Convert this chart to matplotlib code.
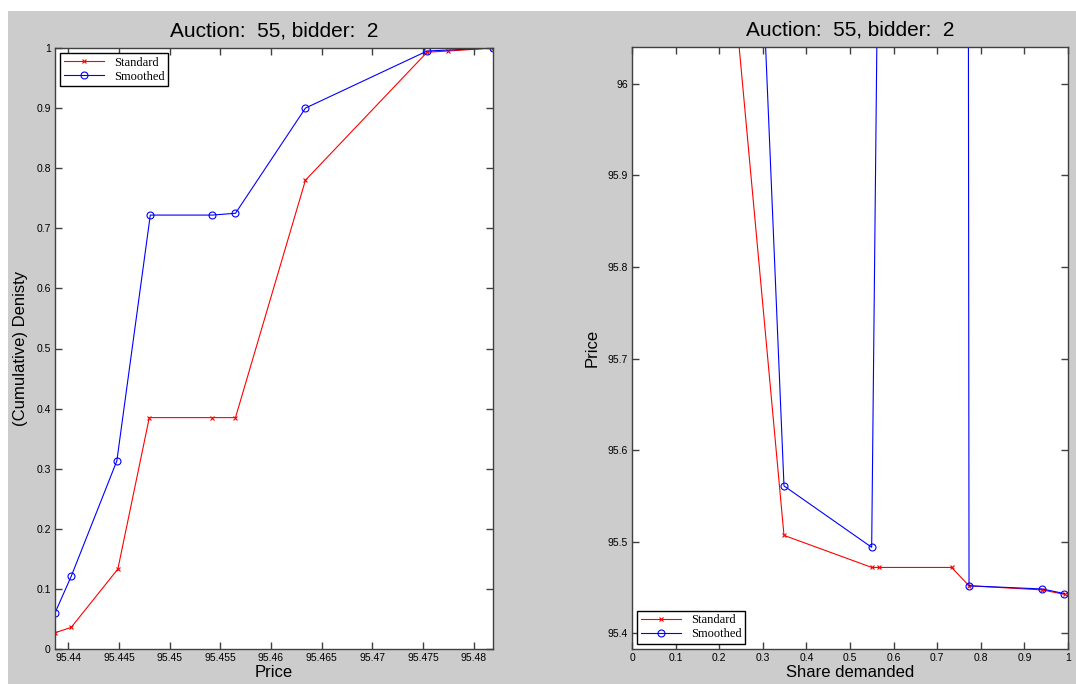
import numpy as np
import matplotlib
matplotlib.use("Agg")
import matplotlib.pyplot as plt
from matplotlib.patches import Rectangle

# cumulative density against price
price_std = [95.4387, 95.4403, 95.4449, 95.4480, 95.4542, 95.4565, 95.4634, 95.4754, 95.4775, 95.4819]
dens_std = [0.027, 0.036, 0.133, 0.385, 0.385, 0.385, 0.780, 0.993, 0.995, 1.000]
price_smo = [95.4387, 95.4403, 95.4448, 95.4481, 95.4542, 95.4565, 95.4634, 95.4754, 95.4819]
dens_smo = [0.060, 0.121, 0.313, 0.722, 0.722, 0.725, 0.900, 0.995, 1.000]

# demand curves: share demanded against price
share_std = [0.157, 0.3486, 0.550, 0.566, 0.733, 0.773, 0.941, 0.993]
pr_std = [96.50, 95.507, 95.472, 95.472, 95.472, 95.452, 95.4475, 95.4425]
share_smo = [0.266, 0.3486, 0.5497, 0.751, 0.773, 0.941, 0.9916]
pr_smo = [96.50, 95.561, 95.494, 104.8, 95.452, 95.4485, 95.4435]

left_xticks = [95.44, 95.445, 95.45, 95.455, 95.46, 95.465, 95.47, 95.475, 95.48]
left_xlabels = ['95.44', '95.445', '95.45', '95.455', '95.46', '95.465', '95.47', '95.475', '95.48']
left_yticks = [0, 0.1, 0.2, 0.3, 0.4, 0.5, 0.6, 0.7, 0.8, 0.9, 1]
left_ylabels = ['0', '0.1', '0.2', '0.3', '0.4', '0.5', '0.6', '0.7', '0.8', '0.9', '1']
right_xticks = [0, 0.1, 0.2, 0.3, 0.4, 0.5, 0.6, 0.7, 0.8, 0.9, 1]
right_xlabels = ['0', '0.1', '0.2', '0.3', '0.4', '0.5', '0.6', '0.7', '0.8', '0.9', '1']
right_yticks = [95.4, 95.5, 95.6, 95.7, 95.8, 95.9, 96]
right_ylabels = ['95.4', '95.5', '95.6', '95.7', '95.8', '95.9', '96']

title = 'Auction:  55, bidder:  2'

plt.rcParams['font.family'] = ['Liberation Sans', 'DejaVu Sans']

W, H = 1076, 684
fig = plt.figure(figsize=(W / 100, H / 100), dpi=100, facecolor='white')
fig.patches.append(Rectangle((8 / W, 0), 1 - 8 / W, (H - 11) / H,
                             transform=fig.transFigure, facecolor='#cccccc',
                             edgecolor='none', zorder=-10))


def px_axes(x0, y0, x1, y1):
    return fig.add_axes([x0 / W, (H - y1) / H, (x1 - x0) / W, (y1 - y0) / H])


def style(ax):
    for s in ax.spines.values():
        s.set_color('#404040')
        s.set_linewidth(1.0)
    ax.tick_params(direction='in', length=5, width=1.0, color='#404040',
                   top=True, right=True, labelsize=7.5, pad=3)


leg_kw = dict(prop={'family': 'Liberation Serif', 'size': 9}, fancybox=False,
              edgecolor='black', framealpha=1, handlelength=3.2, borderpad=0.3,
              labelspacing=0.15, handletextpad=0.8, borderaxespad=0.4)

ax1 = px_axes(55, 48, 493, 649)
ax1.plot(price_std, dens_std, color='red', lw=0.8, marker='x', ms=3, mew=0.8, label='Standard')
ax1.plot(price_smo, dens_smo, color='blue', lw=0.8, marker='o', ms=5, mew=0.8, mfc='none', label='Smoothed')
ax1.set_xlim(min(price_std + price_smo), max(price_std + price_smo))
ax1.set_ylim(0, 1)
ax1.set_xticks(left_xticks, left_xlabels)
ax1.set_yticks(left_yticks, left_ylabels)
style(ax1)
ax1.set_title(title, fontsize=15, pad=8)
ax1.set_xlabel('Price', fontsize=12, labelpad=1)
ax1.set_ylabel('(Cumulative) Denisty', fontsize=12, labelpad=6)
ax1.legend(loc='upper left', **leg_kw)

ax2 = px_axes(632, 47, 1068, 649)
ax2.plot(share_std, pr_std, color='red', lw=0.8, marker='x', ms=3, mew=0.8, label='Standard')
ax2.plot(share_smo, pr_smo, color='blue', lw=0.8, marker='o', ms=5, mew=0.8, mfc='none', label='Smoothed')
ax2.set_xlim(0, 1)
ax2.set_ylim(95.383, 96.04)
ax2.set_xticks(right_xticks, right_xlabels)
ax2.set_yticks(right_yticks, right_ylabels)
style(ax2)
ax2.set_title(title, fontsize=15, pad=8)
ax2.set_xlabel('Share demanded', fontsize=12, labelpad=1)
ax2.set_ylabel('Price', fontsize=12, labelpad=6)
ax2.legend(loc='lower left', **leg_kw)

fig.savefig('out.png', dpi=100, facecolor=fig.get_facecolor())
